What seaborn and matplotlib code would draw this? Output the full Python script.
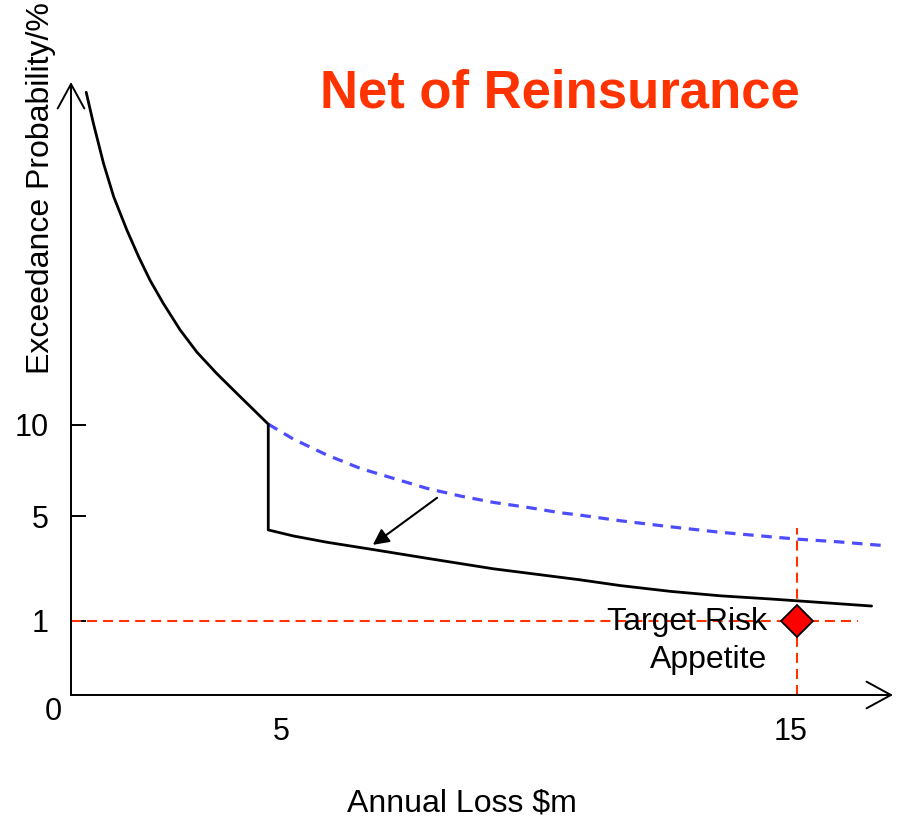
import numpy as np
import pandas as pd
import matplotlib
matplotlib.use("Agg")
import matplotlib.pyplot as plt
import seaborn as sns

# ---- data ----
loss_net = [1.18, 1.32, 1.52, 1.72, 1.98, 2.21, 2.43, 2.69, 3.02, 3.35, 3.74, 4.20, 4.75,
            4.75, 5.24, 5.90, 6.81, 7.86, 9.16, 10.86, 11.65, 12.63, 13.61, 14.59,
            15.11, 16.58]
prob_net = [48.8, 45.2, 40.5, 36.6, 32.7, 29.6, 26.9, 24.2, 21.1, 18.5, 16.0, 13.3, 10.1,
            4.47, 4.24, 4.00, 3.72, 3.39, 2.99, 2.57, 2.35, 2.13, 1.96, 1.84,
            1.77, 1.57]
loss_gross = [4.75, 5.24, 5.90, 6.55, 7.20, 7.86, 8.51, 9.16, 9.82, 10.47, 10.86,
              11.65, 12.63, 13.61, 14.59, 15.11, 15.90, 16.84]
prob_gross = [10.1, 9.23, 8.35, 7.62, 7.07, 6.52, 6.10, 5.75, 5.48, 5.18, 5.05,
              4.82, 4.59, 4.38, 4.21, 4.12, 4.02, 3.87]

target_loss = 15.12
target_prob = 1.0
target_hline_end = 16.31
target_vline_top = 4.54

arrow_from = (8.06, 6.0)
arrow_to = (6.80, 3.9)

y_ticks = [1, 5, 10]
y_tick_labels = ["1", "5", "10"]
x_ticks = [5, 15]
x_tick_labels = ["5", "15"]

# non-linear schematic probability axis
prob_knots = [0, 1, 5, 10, 50]
pos_knots = [0, 74, 179, 270, 613]

sns.set_style("white")
plt.rcParams["font.family"] = ["Liberation Sans", "DejaVu Sans"]
plt.rcParams["text.color"] = "black"
plt.rcParams["xtick.color"] = "black"
plt.rcParams["ytick.color"] = "black"
plt.rcParams["axes.labelcolor"] = "black"

fig = plt.figure(figsize=(9.10, 8.18), dpi=100)
ax = fig.add_axes([71 / 910, 123 / 818, 822 / 910, 613 / 818])


def fwd(p):
    return np.interp(p, prob_knots, pos_knots)


def inv(s):
    return np.interp(s, pos_knots, prob_knots)


ax.set_yscale("function", functions=(fwd, inv))
ax.set_xlim(0.882, 17.0)
ax.set_ylim(0, 50)

df_net = pd.DataFrame({"loss": loss_net, "prob": prob_net})
df_gross = pd.DataFrame({"loss": loss_gross, "prob": prob_gross})

sns.lineplot(data=df_gross, x="loss", y="prob", estimator=None, sort=False,
             color="#4d4dff", linewidth=2.3, ax=ax)
ax.lines[-1].set_dashes((3.3, 2.4))
sns.lineplot(data=df_net, x="loss", y="prob", estimator=None, sort=False,
             color="black", linewidth=2.0, ax=ax)

# target risk appetite reference lines
ax.hlines(target_prob, ax.get_xlim()[0], target_hline_end, colors="#ff3300",
          linewidth=1.5, linestyles=(0, (4.8, 2.9)), zorder=3)
ax.vlines(target_loss, 0, target_vline_top, colors="#ff3300",
          linewidth=1.5, linestyles=(0, (4.8, 2.9)), zorder=3)
ax.plot([target_loss], [target_prob], marker="D", markersize=16,
        markerfacecolor="#ff0000", markeredgecolor="black", markeredgewidth=1.3,
        linestyle="none", zorder=5)

ax.text(14.53, 0.878, "Target Risk", ha="right", va="baseline", fontsize=23, zorder=4)
ax.text(14.53, 0.365, "Appetite", ha="right", va="baseline", fontsize=23, zorder=4)

# shift arrow
ax.annotate("", xy=arrow_to, xytext=arrow_from,
            arrowprops=dict(arrowstyle="-|>", color="black", lw=1.5,
                            mutation_scale=24, shrinkA=0, shrinkB=0))

# axes with arrow heads
for sp in ax.spines.values():
    sp.set_visible(False)
ax.annotate("", xy=(0, 1), xytext=(0, 0), xycoords="axes fraction",
            arrowprops=dict(arrowstyle="->,head_length=0.55,head_width=0.3",
                            color="black", lw=1.4, mutation_scale=32,
                            shrinkA=0, shrinkB=0), annotation_clip=False)
ax.annotate("", xy=(1, 0), xytext=(0, 0), xycoords="axes fraction",
            arrowprops=dict(arrowstyle="->,head_length=0.55,head_width=0.3",
                            color="black", lw=1.4, mutation_scale=32,
                            shrinkA=0, shrinkB=0), annotation_clip=False)

ax.set_yticks(y_ticks)
ax.set_yticklabels(y_tick_labels)
ax.set_xticks(x_ticks)
ax.set_xticklabels(x_tick_labels)
ax.tick_params(axis="y", direction="in", length=11, width=1.4, pad=16,
               labelsize=22, left=True, colors="black")
ax.tick_params(axis="x", length=0, pad=16, labelsize=22, colors="black")
ax.set_xlabel("")
ax.set_ylabel("")
ax.grid(False)

ax.annotate("0", xy=(0, 0), xycoords="axes fraction", xytext=(-18, -17),
            textcoords="offset pixels", ha="center", va="center", fontsize=22,
            color="black")

fig.text(41 / 910, 1 - 188 / 818, "Exceedance Probability/%", rotation=90,
         ha="center", va="center", fontsize=23, color="black")
fig.text(462 / 910, 1 - 803 / 818, "Annual Loss $m", ha="center", va="center",
         fontsize=23, color="black")
fig.text(560 / 910, 1 - 107 / 818, "Net of Reinsurance", ha="center",
         va="baseline", fontsize=38, fontweight="bold", color="#ff3300")

fig.savefig("out.png", dpi=100)
